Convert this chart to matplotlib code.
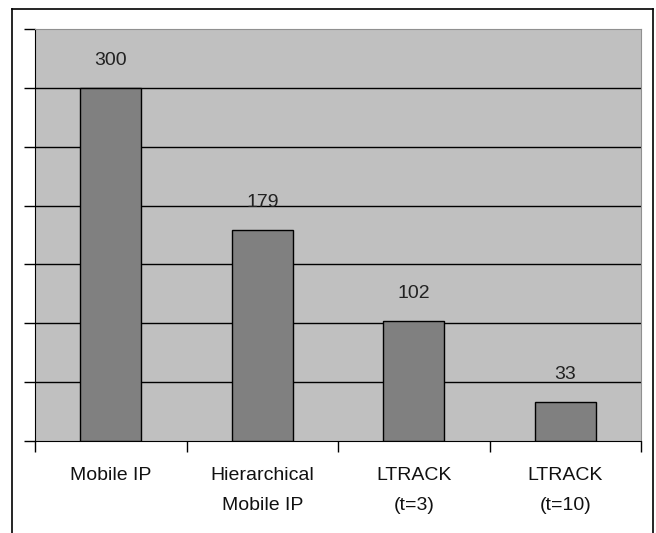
import matplotlib.pyplot as plt
from matplotlib.lines import Line2D
import numpy as np

# handoff latency per scheme
schemes = ['Mobile IP', 'Hierarchical\nMobile IP', 'LTRACK\n(t=3)', 'LTRACK\n(t=10)']
values = [300, 179, 102, 33]
yticks = [0, 50, 100, 150, 200, 250, 300, 350]

plt.rcParams['font.family'] = ['Liberation Sans', 'DejaVu Sans']

fig = plt.figure(figsize=(6.56, 5.33), dpi=100)
ax = fig.add_axes([35/656, 92/533, 606/656, 412/533])
ax.set_facecolor('#c0c0c0')

x = np.arange(len(schemes))
ax.bar(x, values, width=0.4, color='#808080', edgecolor='black', linewidth=1, zorder=3)

for xi, v in zip(x, values):
    ax.annotate(str(v), (xi, v), xytext=(0, 16.5), textcoords='offset points',
                ha='center', va='baseline', fontsize=14, color='#222222', zorder=4)

ax.set_xlim(-0.5, len(schemes) - 0.5)
ax.set_ylim(0, 350)
ax.set_yticks(yticks)
ax.set_yticklabels([])
ax.tick_params(axis='y', length=8, width=1, color='black', direction='out')
for y in yticks[1:-1]:
    ax.axhline(y, color='black', lw=1, zorder=2)

# category ticks sit on the boundaries, labels at the centres
ax.set_xticks(np.arange(len(schemes) + 1) - 0.5)
ax.set_xticklabels([])
ax.set_xticks(x, minor=True)
ax.set_xticklabels(schemes, minor=True, fontsize=14, linespacing=2.0, color='#111111')
ax.tick_params(axis='x', which='major', length=8, width=1, color='black')
ax.tick_params(axis='x', which='minor', length=0, pad=19)

ax.spines['left'].set_color('black')
ax.spines['bottom'].set_color('black')
ax.spines['top'].set_color('#909090')
ax.spines['right'].set_color('#909090')

# outer frame around the chart
fx0, fx1, fy1 = 12/656, 653/656, 1 - 9/533
for xs, ys in [([fx0, fx0], [0, fy1]), ([fx0, fx1], [fy1, fy1]), ([fx1, fx1], [0, fy1])]:
    fig.add_artist(Line2D(xs, ys, color='black', lw=1.2, transform=fig.transFigure))

fig.savefig('out.png', dpi=100)
